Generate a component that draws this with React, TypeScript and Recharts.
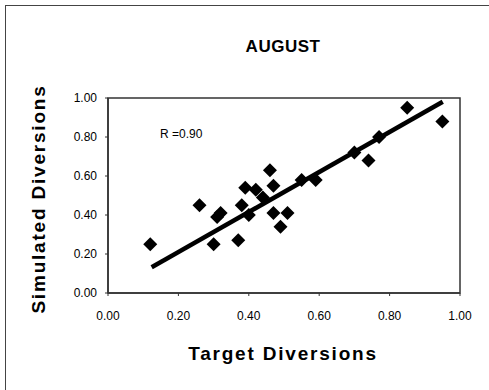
import { ScatterChart, Scatter, XAxis, YAxis, ReferenceArea } from "recharts"

// Target vs simulated diversions, August
const target = [
  0.12, 0.26, 0.3, 0.31, 0.32, 0.37, 0.38, 0.39, 0.4, 0.42, 0.44, 0.46, 0.47, 0.47, 0.49, 0.51, 0.55, 0.59,
  0.7, 0.74, 0.77, 0.85, 0.95,
]
const simulated = [
  0.25, 0.45, 0.25, 0.39, 0.41, 0.27, 0.45, 0.54, 0.4, 0.53, 0.49, 0.63, 0.55, 0.41, 0.34, 0.41, 0.58, 0.58,
  0.72, 0.68, 0.8, 0.95, 0.88,
]

// fitted line end points
const fitX = [0.124, 0.951]
const fitY = [0.132, 0.981]

const ticks = [0, 0.2, 0.4, 0.6, 0.8, 1]
const rValue = "R =0.90"

const points = target.map((x, i) => ({ x, y: simulated[i] }))
const fitLine = fitX.map((x, i) => ({ x, y: fitY[i] }))

const FONT = "'Liberation Sans', Arial, Helvetica, sans-serif"

const Diamond = (props: any) => {
  const { cx, cy } = props
  const r = 7
  return <path d={`M${cx},${cy - r}L${cx + r},${cy}L${cx},${cy + r}L${cx - r},${cy}Z`} fill="#000" />
}

const fmt = (v: number) => v.toFixed(2)

const App = () => {
  const tickStyle = { fontSize: 12, fill: "#000", fontFamily: FONT }
  return (
    <div style={{ position: "absolute", left: 0, top: 0, width: 489, height: 390, background: "#fff", fontFamily: FONT }}>
      <div
        style={{
          position: "absolute",
          left: 5,
          top: 5,
          width: 484,
          height: 385,
          borderLeft: "1px solid #444",
          borderTop: "1px solid #444",
        }}
      />
      <ScatterChart width={489} height={390} margin={{ top: 98, right: 29, bottom: 0, left: 0 }}>
        <XAxis
          type="number"
          dataKey="x"
          domain={[0, 1]}
          ticks={ticks}
          tickFormatter={fmt}
          height={97}
          tick={tickStyle}
          tickSize={3}
          tickMargin={15}
          axisLine={{ stroke: "#333", strokeWidth: 1.5 }}
          tickLine={{ stroke: "#333" }}
        />
        <YAxis
          type="number"
          dataKey="y"
          domain={[0, 1]}
          ticks={ticks}
          tickFormatter={fmt}
          width={108}
          tick={tickStyle}
          tickSize={3}
          tickMargin={8}
          axisLine={{ stroke: "#333", strokeWidth: 1.5 }}
          tickLine={{ stroke: "#333" }}
        />
        <ReferenceArea x1={0} x2={1} y1={0} y2={1} fill="none" stroke="#333" strokeWidth={1.5} />
        <Scatter
          data={fitLine}
          line={{ stroke: "#000", strokeWidth: 4.5 }}
          shape={() => <g />}
          isAnimationActive={false}
        />
        <Scatter data={points} shape={<Diamond />} isAnimationActive={false} />
      </ScatterChart>
      <div
        style={{
          position: "absolute",
          left: 0,
          width: 566,
          top: 37,
          textAlign: "center",
          fontSize: 17,
          fontWeight: "bold",
          letterSpacing: 0.5,
        }}
      >
        AUGUST
      </div>
      <div style={{ position: "absolute", left: 160, top: 127, fontSize: 12 }}>{rValue}</div>
      <div
        style={{
          position: "absolute",
          left: 0,
          width: 566,
          top: 343,
          textAlign: "center",
          fontSize: 19,
          fontWeight: "bold",
          letterSpacing: 1.8,
        }}
      >
        Target Diversions
      </div>
      <div
        style={{
          position: "absolute",
          left: 39,
          top: 199,
          transform: "translate(-50%, -50%) rotate(-90deg)",
          whiteSpace: "nowrap",
          fontSize: 19,
          fontWeight: "bold",
          letterSpacing: 1.8,
        }}
      >
        Simulated Diversions
      </div>
    </div>
  )
}

export default App
